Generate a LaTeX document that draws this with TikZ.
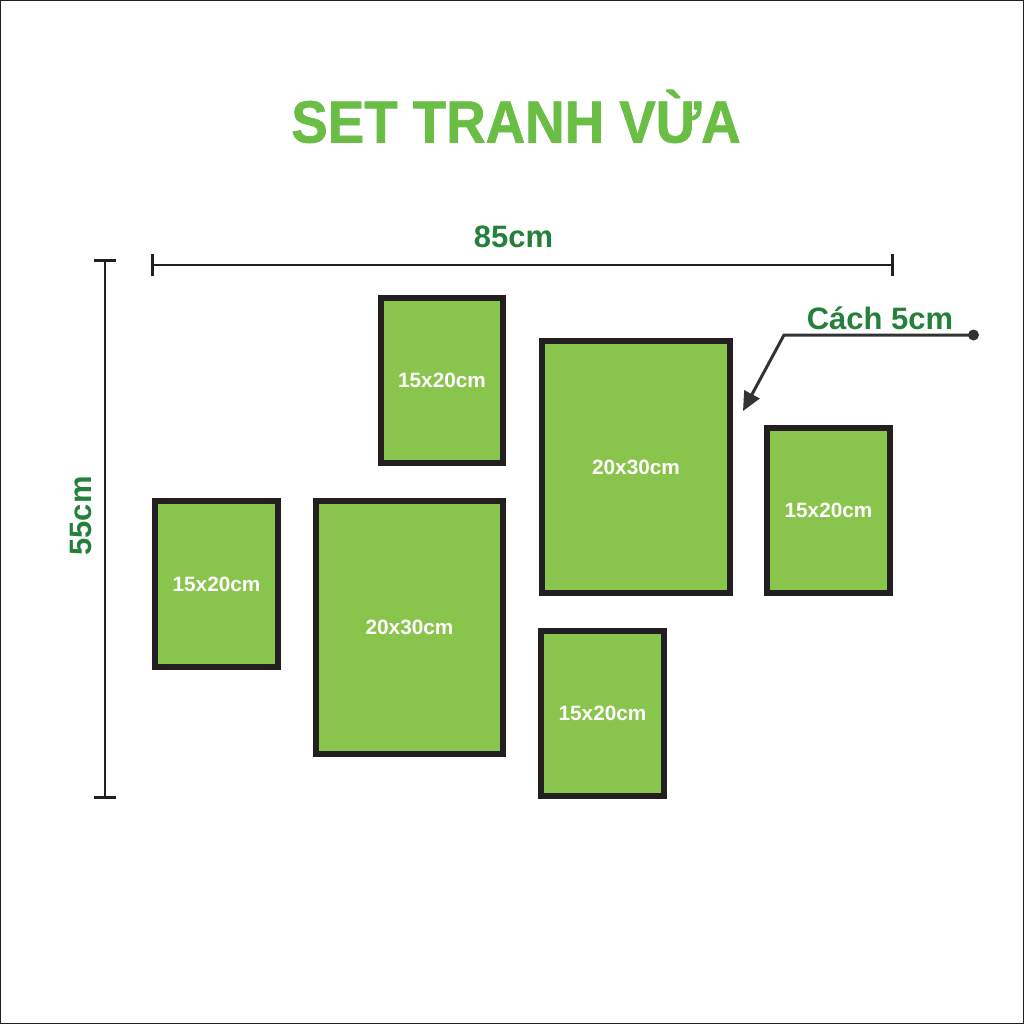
\documentclass[tikz,border=0pt]{standalone}
\usepackage{fontspec}
\setmainfont{Liberation Sans}
\newfontfamily\titlefont[FakeBold=1.2,FakeStretch=0.92]{Liberation Sans Bold}
\usetikzlibrary{arrows.meta}
\definecolor{framegreen}{HTML}{89C54C}
\definecolor{titlegreen}{HTML}{6ABD45}
\definecolor{dimgreen}{HTML}{24803A}
\definecolor{framedark}{HTML}{231F20}
\definecolor{notedark}{HTML}{333335}

\begin{document}
\begin{tikzpicture}[x=0.01cm,y=-0.01cm,line width=0.027cm]
\tikzstyle{frame}=[draw=framedark,fill=framegreen,line width=0.06cm,text=white,font=\bfseries\fontsize{5.9}{7}\selectfont,inner sep=0pt];
\tikzstyle{small}=[frame,minimum width=1.22cm,minimum height=1.65cm];
\tikzstyle{big}=[frame,minimum width=1.87cm,minimum height=2.52cm];
\tikzstyle{dim}=[draw=framedark,{Bar[width=0.22cm,line width=0.03cm]}-{Bar[width=0.22cm,line width=0.03cm]}];
\tikzstyle{size}=[text=dimgreen,font=\bfseries\fontsize{8.8}{10}\selectfont,inner sep=0pt];

\useasboundingbox (0,0) rectangle (1024,1024);
\draw [framedark,line width=0.01cm] (0.5,0.5) rectangle (1023.5,1023.5);

\node [text=titlegreen,font=\titlefont\fontsize{16.9}{20}\selectfont,inner sep=0pt,anchor=base] (title) at (516,142.5) {SET TRANH VỪA};

\node [small] (f1) at (442,380.5) {15x20cm};
\node [big] (f2) at (636,467) {20x30cm};
\node [small] (f3) at (828.5,510.5) {15x20cm};
\node [small] (f4) at (216.5,584) {15x20cm};
\node [big] (f5) at (409.5,627.5) {20x30cm};
\node [small] (f6) at (602.5,713.5) {15x20cm};

% dimensions
\coordinate (w1) at (151,265);
\coordinate (w2) at (894,265);
\coordinate (h1) at (105,259);
\coordinate (h2) at (105,799);
\draw [dim] (w1) -- (w2);
\draw [dim] (h1) -- (h2);
\node [size] (wlabel) at (513.5,237) {85cm};
\node [size,rotate=90] (hlabel) at (81,516) {55cm};

% gap note
\node [size] (note) at (880,318) {Cách 5cm};
\node [circle,fill=notedark,inner sep=0pt,minimum size=0.11cm] (dot) at (973.5,335) {};
\coordinate (bend) at (784,335);
\coordinate (tip) at (743,411);
\draw [notedark,line width=0.03cm,-{Triangle[length=0.19cm,width=0.17cm]}] (dot.center) -- (bend) -- (tip);
\end{tikzpicture}
\end{document}
